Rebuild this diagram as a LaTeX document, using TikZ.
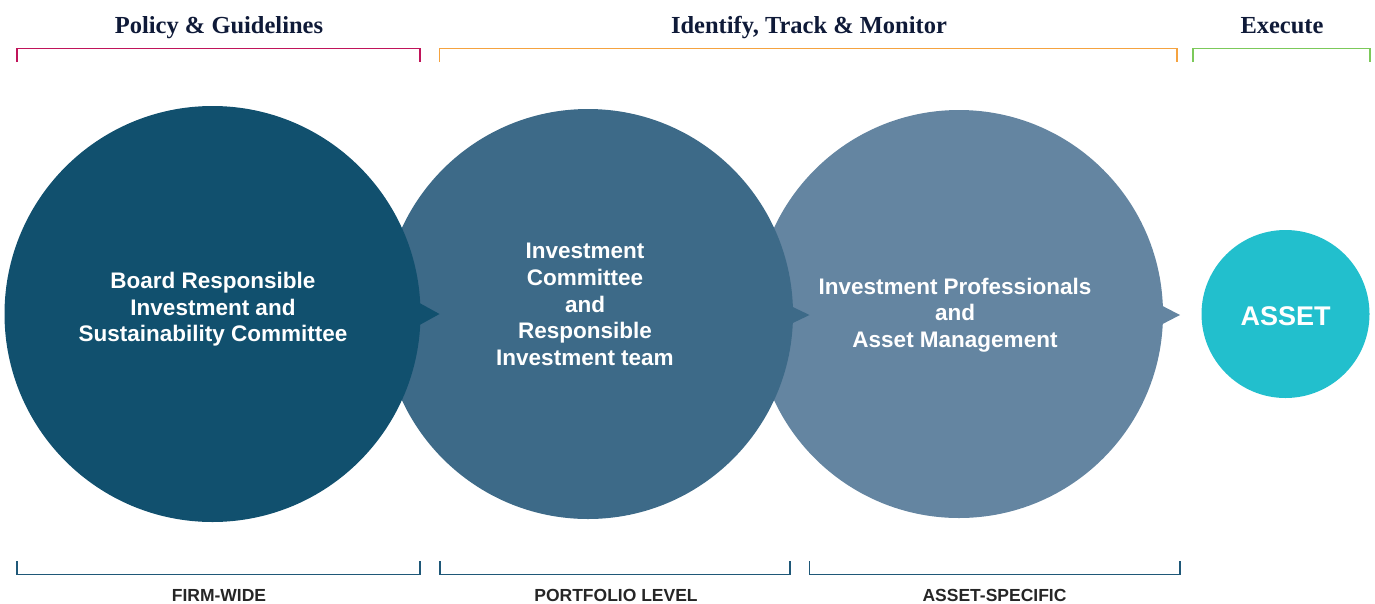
\documentclass[tikz,border=0pt]{standalone}
\usepackage{fontspec}
\setmainfont{Liberation Serif}
\setsansfont{Liberation Sans}
\begin{document}
\begin{tikzpicture}[x=1pt,y=-1pt,
  disc/.style={circle,inner sep=0pt,draw=none},
  intext/.style={text=white,font=\sffamily\bfseries\fontsize{22.5}{26.6}\selectfont,align=center},
  heading/.style={text=navy,font=\bfseries\fontsize{24.5}{28}\selectfont,anchor=base},
  scope label/.style={text=labelgray,font=\sffamily\bfseries\fontsize{17.5}{20}\selectfont,anchor=base},
  bracket/.style={line width=1.4pt}]
\definecolor{navy}{HTML}{0F1A38}
\definecolor{labelgray}{HTML}{262626}
\definecolor{discA}{HTML}{11506E}
\definecolor{discB}{HTML}{3D6A88}
\definecolor{discC}{HTML}{6485A1}
\definecolor{assetcol}{HTML}{22BFCD}
\definecolor{policycol}{HTML}{C0145A}
\definecolor{trackcol}{HTML}{F5A340}
\definecolor{execcol}{HTML}{7CC95A}
\definecolor{scopecol}{HTML}{1F5878}

\useasboundingbox (0,0) rectangle (1375,603);

% headings and their brackets
\node[heading] (hPolicy) at (219,33) {Policy \& Guidelines};
\node[heading] (hTrack) at (809,33) {Identify, Track \& Monitor};
\node[heading] (hExec) at (1282,33) {Execute};
\draw[bracket,policycol] (17,62) -- (17,48.5) -- (420,48.5) -- (420,62);
\draw[bracket,trackcol] (439.5,62) -- (439.5,48.5) -- (1177,48.5) -- (1177,62);
\draw[bracket,execcol] (1193,62) -- (1193,48.5) -- (1370,48.5) -- (1370,62);

% discs, back to front, each with its pointer
\node[disc,fill=discC,minimum size=408pt] (c3) at (959,314) {};
\fill[discC] (1150,299.5) -- (1180,315) -- (1150,330.5) -- cycle;
\node[disc,fill=discB,minimum size=410pt] (c2) at (588,314) {};
\fill[discB] (775,298.5) -- (809.5,315) -- (775,331.5) -- cycle;
\node[disc,fill=discA,minimum size=416pt] (c1) at (212.5,314) {};
\fill[discA] (405,295) -- (439.5,314) -- (405,333) -- cycle;
\node[disc,fill=assetcol,minimum size=168pt] (asset) at (1285.5,314) {};

% disc captions
\node[intext] (t1) at (213,309.5) {Board Responsible\\Investment and\\Sustainability Committee};
\node[intext] (t2) at (585,304.5) {Investment\\Committee\\and\\Responsible\\Investment team};
\node[intext] (t3) at (955,315) {Investment Professionals\\and\\Asset Management};
\node[text=white,font=\sffamily\bfseries\fontsize{27}{30}\selectfont] (t4) at (1285.5,316) {ASSET};

% scope brackets and labels
\draw[bracket,scopecol] (17,561) -- (17,574.5) -- (420,574.5) -- (420,561);
\draw[bracket,scopecol] (440,561) -- (440,574.5) -- (790,574.5) -- (790,561);
\draw[bracket,scopecol] (809.5,561) -- (809.5,574.5) -- (1180,574.5) -- (1180,561);
\node[scope label] (sFirm) at (219,601) {FIRM-WIDE};
\node[scope label] (sPort) at (616,601) {PORTFOLIO LEVEL};
\node[scope label] (sAsset) at (994.5,601) {ASSET-SPECIFIC};
\end{tikzpicture}
\end{document}
